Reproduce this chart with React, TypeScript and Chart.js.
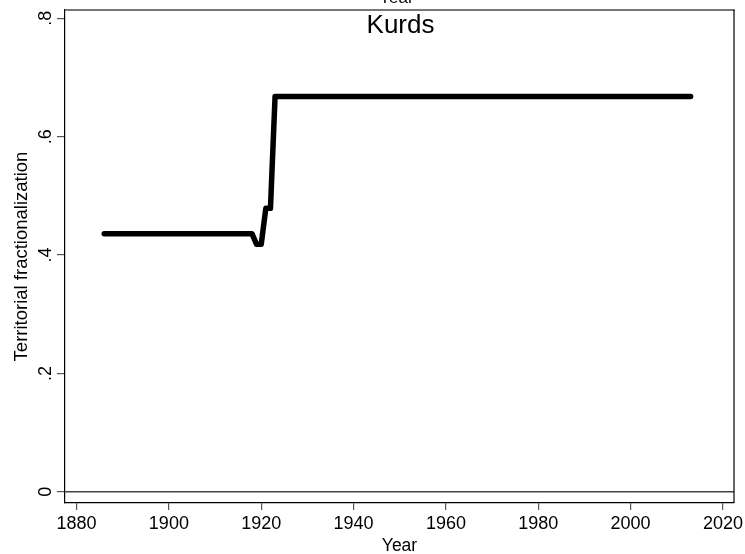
import React, { useEffect, useRef } from 'react';
import { Chart, registerables } from 'chart.js';

Chart.register(...registerables);

// ---- Data ----
const years = [1886, 1918, 1919, 1920, 1921, 1922, 1923, 2013];
const fractionalization = [0.436, 0.436, 0.418, 0.418, 0.479, 0.479, 0.668, 0.668];
const xTickValues = [1880, 1900, 1920, 1940, 1960, 1980, 2000, 2020];
const yTickValues = [0, 0.2, 0.4, 0.6, 0.8];
const yTickLabels = ['0', '.2', '.4', '.6', '.8'];
const chartTitle = 'Kurds';
const xAxisTitle = 'Year';
const yAxisTitle = 'Territorial fractionalization';

const FONT = 'Liberation Sans, Arial, Helvetica, sans-serif';

const decorPlugin = {
  id: 'stataDecor',
  beforeDatasetsDraw(chart: any) {
    const { ctx, chartArea, scales } = chart;
    const y0 = scales.y.getPixelForValue(0);
    ctx.save();
    ctx.strokeStyle = '#444';
    ctx.lineWidth = 1.6;
    ctx.beginPath();
    ctx.moveTo(chartArea.left, y0);
    ctx.lineTo(chartArea.right, y0);
    ctx.stroke();
    ctx.restore();
  },
  afterDraw(chart: any) {
    const { ctx, chartArea, scales } = chart;
    ctx.save();
    // frame: top (gray) and right (black)
    ctx.strokeStyle = '#777';
    ctx.lineWidth = 2;
    ctx.beginPath();
    ctx.moveTo(chartArea.left, chartArea.top);
    ctx.lineTo(chartArea.right + 1, chartArea.top);
    ctx.stroke();
    ctx.strokeStyle = '#000';
    ctx.lineWidth = 1.2;
    ctx.beginPath();
    ctx.moveTo(chartArea.right, chartArea.top);
    ctx.lineTo(chartArea.right, chartArea.bottom);
    ctx.stroke();

    // y tick labels, rotated
    ctx.fillStyle = '#000';
    ctx.font = `18px ${FONT}`;
    ctx.textAlign = 'center';
    ctx.textBaseline = 'alphabetic';
    yTickValues.forEach((v, i) => {
      const py = scales.y.getPixelForValue(v);
      ctx.save();
      ctx.translate(51, py);
      ctx.rotate(-Math.PI / 2);
      ctx.fillText(yTickLabels[i], 0, 0);
      ctx.restore();
    });

    // title inside plot region
    const cx = (chartArea.left + chartArea.right) / 2;
    ctx.font = `26px ${FONT}`;
    ctx.fillText(chartTitle, cx + 1, chartArea.top + 23);

    // clipped "Year" text at the very top
    ctx.font = `17px ${FONT}`;
    ctx.fillText(xAxisTitle, cx - 3, 3);
    ctx.restore();
  },
};

export default function App() {
  const canvasRef = useRef<HTMLCanvasElement | null>(null);

  useEffect(() => {
    if (!canvasRef.current) return;
    const chart = new Chart(canvasRef.current, {
      type: 'line',
      data: {
        datasets: [
          {
            data: years.map((x, i) => ({ x, y: fractionalization[i] })),
            borderColor: '#000',
            backgroundColor: '#000',
            borderWidth: 5.5,
            pointRadius: 0,
            borderCapStyle: 'round',
            borderJoinStyle: 'round',
            tension: 0,
            fill: false,
          },
        ],
      },
      options: {
        responsive: false,
        animation: false,
        devicePixelRatio: 1,
        layout: { padding: { left: 0, top: 10, right: 11, bottom: 0 } },
        plugins: {
          legend: { display: false },
          tooltip: { enabled: false },
          title: { display: false },
        },
        scales: {
          x: {
            type: 'linear',
            min: 1877.5,
            max: 2022.4,
            afterBuildTicks: (s: any) => {
              s.ticks = xTickValues.map((v) => ({ value: v }));
            },
            afterFit: (s: any) => {
              s.height = 51;
              s.paddingLeft = 0;
              s.paddingRight = 0;
            },
            ticks: {
              autoSkip: false,
              maxRotation: 0,
              minRotation: 0,
              padding: 3,
              color: '#000',
              font: { family: FONT, size: 18 },
              callback: (v: any) => String(v),
            },
            grid: {
              display: true,
              drawOnChartArea: false,
              drawTicks: true,
              tickLength: 7,
              color: '#555',
              lineWidth: 1.2,
            },
            border: { display: true, color: '#000', width: 1.2 },
            title: {
              display: true,
              text: xAxisTitle,
              color: '#000',
              font: { family: FONT, size: 17.5, lineHeight: 0.85 },
              padding: { top: 0, bottom: 0 },
            },
          },
          y: {
            type: 'linear',
            min: -0.019,
            max: 0.814,
            afterBuildTicks: (s: any) => {
              s.ticks = yTickValues.map((v) => ({ value: v }));
            },
            afterFit: (s: any) => {
              s.width = 65;
              s.paddingTop = 0;
              s.paddingBottom = 0;
            },
            ticks: { display: false },
            grid: {
              display: true,
              drawOnChartArea: false,
              drawTicks: true,
              tickLength: 8,
              color: '#555',
              lineWidth: 1.2,
            },
            border: { display: true, color: '#000', width: 1.2 },
            title: {
              display: true,
              text: yAxisTitle,
              color: '#000',
              font: { family: FONT, size: 18.5 },
              padding: { top: 11, bottom: 0 },
            },
          },
        },
      },
      plugins: [decorPlugin],
    } as any);
    return () => chart.destroy();
  }, []);

  return (
    <div style={{ position: 'absolute', left: 0, top: 0, width: 745, height: 554, background: '#fff' }}>
      <canvas ref={canvasRef} width={745} height={554} style={{ display: 'block' }} />
    </div>
  );
}
